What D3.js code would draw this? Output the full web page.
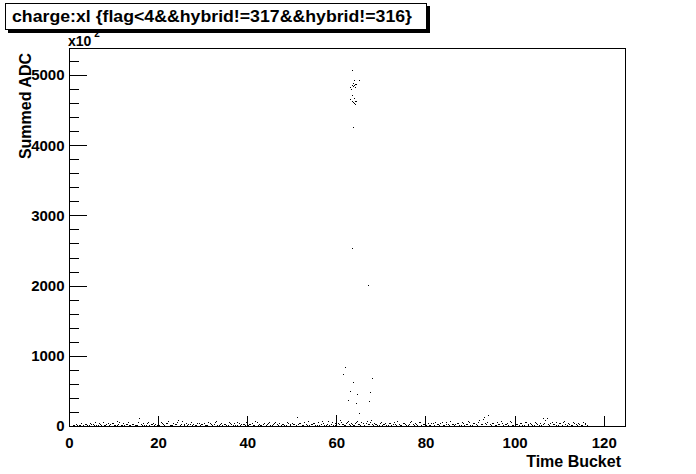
<!DOCTYPE html>
<html><head><meta charset="utf-8">
<script src="https://cdn.jsdelivr.net/npm/d3@7"></script>
<style>
html,body{margin:0;padding:0;background:#fff;}
text{font-family:"Liberation Sans",Arial,Helvetica,sans-serif;font-weight:bold;fill:#000;}
</style></head>
<body>
<svg id="c" width="696" height="474"></svg>
<script>
// ---- data (y in units of 10^2 ADC, as shown on the axis) ----
const titleText = "charge:xl {flag<4&&hybrid!=317&&hybrid!=316}";
const xTicks = [0, 20, 40, 60, 80, 100, 120];
const yTicks = [0, 1000, 2000, 3000, 4000, 5000];
const yMinor = [200,400,600,800,1200,1400,1600,1800,2200,2400,2600,2800,3200,3400,3600,3800,4200,4400,4600,4800,5200];

// signal cluster around time bucket 63-65
const clusterX = [63.58,64.03,65.15,63.80,64.25,64.47,63.58,64.03,63.13,63.80,64.25,63.35,63.58,63.13,64.03,63.58,63.80,64.25,64.47,64.03,64.25,63.80];
const clusterY = [5067,4924,4924,4882,4867,4867,4853,4853,4825,4839,4825,4796,4711,4654,4668,4625,4611,4625,4625,4597,4582,4255];

// intermediate hits
const midX = [63.58,67.2,62.0,61.6,68.1,63.8,63.1,64.7,67.6,62.7,64.3,64.5,67.4,65.1];
const midY = [2531,2004,836,736,679,622,494,456,480,366,323,323,352,181];

// pedestal / noise band along the bottom
const baseX = [1.2,1.9,2.5,3.1,3.8,4.4,5.0,5.6,6.1,6.7,7.2,7.9,8.4,9.0,9.6,10.1,10.7,11.3,11.8,12.4,13.0,13.5,14.1,14.7,15.2,15.7,16.3,16.9,17.4,18.0,18.6,19.1,19.7,20.3,20.9,21.4,22.0,22.6,23.1,23.7,24.2,24.8,25.4,25.9,26.5,27.1,27.6,28.2,28.8,29.3,29.9,30.5,31.0,31.6,32.2,32.7,33.3,33.9,34.4,35.0,35.6,36.1,36.7,37.3,37.8,38.4,39.0,39.5,40.1,40.7,41.2,41.8,42.4,42.9,43.5,44.1,44.6,45.2,45.8,46.3,46.9,47.5,48.0,48.6,49.2,49.7,50.3,50.9,51.1,51.6,52.2,52.8,53.3,53.9,54.5,55.0,55.6,56.2,56.7,57.3,57.9,58.4,59.0,59.6,60.0,60.0,60.0,60.3,60.8,61.2,61.7,62.2,62.6,63.0,63.5,64.0,64.4,64.9,65.4,65.9,66.3,66.8,67.3,67.8,68.2,68.7,69.2,69.7,70.2,70.7,71.2,71.8,72.3,72.9,73.4,74.0,74.6,75.1,75.7,76.2,76.8,77.4,77.9,78.5,79.1,79.6,80.2,80.8,81.3,81.9,82.5,83.0,83.6,84.2,84.7,85.3,85.9,86.4,87.0,87.6,88.1,88.7,89.3,89.8,90.4,91.0,91.5,92.1,92.7,93.1,93.6,94.1,94.6,95.2,95.8,96.3,96.9,97.5,98.0,98.6,99.2,99.7,100.3,100.9,101.4,102.0,102.6,103.1,103.7,104.3,104.8,105.4,106.0,106.3,106.6,107.2,107.7,108.3,108.9,109.4,110.0,110.6,111.1,111.7,112.3,112.8,113.4,114.0,114.5,115.1,115.7,116.2];
const baseY = [8,3,14,5,22,9,31,4,17,45,12,6,26,10,38,7,19,52,11,3,24,9,33,14,6,114,21,8,42,13,28,5,16,9,36,12,47,18,7,29,58,15,66,22,9,34,11,19,41,6,25,13,8,37,17,50,10,23,4,31,14,44,9,20,62,12,27,7,18,33,10,70,15,5,28,13,39,8,22,55,11,17,30,6,48,14,24,9,128,36,12,60,19,7,27,43,10,21,65,13,32,8,52,16,157,110,70,38,90,24,12,45,75,18,30,9,56,22,14,40,11,68,26,85,8,34,15,47,10,23,6,38,16,59,12,27,8,44,18,31,72,11,25,50,14,35,7,20,46,13,29,9,58,17,33,6,24,12,41,19,64,10,28,52,15,37,8,80,22,124,30,157,14,45,11,26,70,9,34,18,55,12,23,7,40,16,62,10,29,14,48,20,8,110,36,110,13,57,24,9,42,17,66,11,31,6,47,19,27,12,38,8];

// second noise band sample [time bucket, summed ADC]
const noisePairs = [[0.9,20],[1.6,35],[2.2,12],[2.8,48],[3.5,26],[4.1,15],[4.7,40],[5.3,22],[5.9,60],[6.4,18],[7.0,30],[7.6,55],[8.1,14],[8.7,37],[9.3,24],[9.9,46],[10.4,16],[10.7,70],[11.0,29],[11.6,19],[12.1,42],[12.7,25],[13.3,58],[13.8,17],[14.4,34],[15.0,21],[15.5,50],[16.1,27],[16.6,39],[17.2,15],[17.7,63],[18.3,23],[18.9,44],[19.4,31],[20.0,18],[20.6,53],[21.2,26],[21.7,36],[22.3,72],[22.9,20],[23.4,41],[24.0,28],[24.5,85],[25.1,33],[25.7,17],[26.2,49],[26.8,24],[27.4,61],[27.9,30],[28.5,19],[29.1,45],[29.6,27],[30.2,38],[30.8,16],[31.3,57],[31.9,23],[32.5,34],[33.0,68],[33.6,20],[34.2,42],[34.7,29],[35.3,15],[35.9,51],[36.4,25],[37.0,36],[37.6,19],[38.1,47],[38.7,30],[39.3,22],[39.8,58],[40.4,26],[41.0,39],[41.5,17],[42.1,54],[42.7,31],[43.2,21],[43.8,46],[44.4,28],[44.9,64],[45.5,18],[46.1,37],[46.6,24],[47.2,49],[47.8,33],[48.3,16],[48.9,59],[49.5,27],[50.0,40],[50.6,22],[51.3,35],[51.9,48],[52.5,19],[53.1,30],[53.6,73],[54.2,25],[54.8,38],[55.3,17],[55.9,52],[56.5,28],[57.0,44],[57.6,21],[58.2,67],[58.7,32],[59.3,18],[59.8,46],[60.5,29],[61.0,55],[61.5,35],[61.9,20],[62.4,62],[62.9,27],[63.3,44],[63.8,16],[64.2,37],[64.7,78],[65.1,25],[65.6,50],[66.1,19],[66.6,41],[67.1,30],[67.5,60],[68.0,22],[68.5,47],[69.0,33],[69.5,18],[70.0,56],[70.5,28],[71.0,39],[71.5,15],[72.1,45],[72.6,26],[73.2,35],[73.7,70],[74.3,21],[74.9,42],[75.4,30],[76.0,17],[76.5,54],[77.1,27],[77.7,38],[78.2,20],[78.8,63],[79.4,31],[79.9,24],[80.5,48],[81.1,19],[81.6,36],[82.2,57],[82.8,25],[83.3,40],[83.9,16],[84.5,50],[85.0,29],[85.6,66],[86.2,22],[86.7,34],[87.3,47],[87.9,18],[88.4,39],[89.0,28],[89.6,75],[90.1,21],[90.7,43],[91.3,32],[91.8,58],[92.4,24],[93.0,95],[93.4,37],[93.9,52],[94.4,26],[94.9,41],[95.5,19],[96.1,60],[96.6,30],[97.2,45],[97.8,22],[98.3,36],[98.9,68],[99.5,17],[100.0,49],[100.6,27],[101.2,38],[101.7,20],[102.3,55],[102.9,31],[103.4,44],[104.0,18],[104.6,62],[105.1,26],[105.7,40],[106.4,33],[106.9,88],[107.5,23],[108.0,46],[108.6,29],[109.2,57],[109.7,19],[110.3,37],[110.9,52],[111.4,25],[112.0,43],[112.6,16],[113.1,61],[113.7,28],[114.3,39],[114.8,21],[115.4,50],[115.9,30]];

const W = 696, H = 474;
const L = 69, R = 626, T = 48, B = 426;
const svg = d3.select("#c");
svg.append("rect").attr("width", W).attr("height", H).attr("fill", "#fff");

const x = d3.scaleLinear().domain([0, 125]).range([L, R]);
const y = d3.scaleLinear().domain([0, 5385]).range([B, T]);

// title box with shadow
svg.append("rect").attr("x", 8).attr("y", 6).attr("width", 422).attr("height", 27).attr("fill", "#000");
svg.append("rect").attr("x", 5.5).attr("y", 3.5).attr("width", 421).attr("height", 26).attr("fill", "#fff").attr("stroke", "#000").attr("stroke-width", 1);
svg.append("text").attr("x", 12).attr("y", 22).attr("font-size", 17)
  .attr("textLength", 400).attr("lengthAdjust", "spacingAndGlyphs").text(titleText);

// points
const pts = [];
baseX.forEach((v, i) => pts.push([v, baseY[i]]));
noisePairs.forEach(p => pts.push(p));
midX.forEach((v, i) => pts.push([v, midY[i]]));
clusterX.forEach((v, i) => pts.push([v, clusterY[i]]));
svg.append("g").attr("shape-rendering", "crispEdges").selectAll("rect").data(pts).join("rect")
  .attr("x", d => Math.round(x(d[0])))
  .attr("y", d => Math.min(Math.round(y(d[1])), B - 1))
  .attr("width", 1).attr("height", 1).attr("fill", "#000");

// frame
svg.append("rect").attr("x", L + 0.5).attr("y", T + 0.5).attr("width", R - L - 1).attr("height", B - T)
  .attr("fill", "none").attr("stroke", "#000").attr("shape-rendering", "crispEdges");

// y axis
const yAx = svg.append("g").attr("transform", `translate(${L + 0.5},0)`)
  .call(d3.axisLeft(y).tickValues(yTicks).tickSize(-17).tickPadding(5).tickFormat(d3.format("d")));
const yAxMin = svg.append("g").attr("transform", `translate(${L + 0.5},0)`)
  .call(d3.axisLeft(y).tickValues(yMinor).tickSize(-9).tickFormat(""));
[yAx, yAxMin].forEach(g => {
  g.select(".domain").remove();
  g.attr("shape-rendering", "crispEdges");
  g.selectAll("line").attr("stroke", "#000");
  g.selectAll("text").attr("font-size", 15).attr("font-family", null).attr("fill", "#000");
});

// x axis
const xAx = svg.append("g").attr("transform", `translate(0,${B + 0.5})`)
  .call(d3.axisBottom(x).tickValues(xTicks).tickSize(-11).tickPadding(11).tickFormat(d3.format("d")));
xAx.select(".domain").remove();
xAx.attr("shape-rendering", "crispEdges");
xAx.selectAll("line").attr("stroke", "#000");
xAx.selectAll("text").attr("font-size", 15).attr("font-family", null).attr("fill", "#000");

// exponent label
const ex = svg.append("text").attr("x", 68).attr("y", 46).attr("font-size", 14);
ex.append("tspan").text("x10");
ex.append("tspan").attr("dx", 3).attr("dy", -9).attr("font-size", 10).text("2");

// axis titles
svg.append("text").attr("x", 621).attr("y", 467).attr("text-anchor", "end").attr("font-size", 16).text("Time Bucket");
svg.append("text").attr("transform", "translate(31,53) rotate(-90)").attr("text-anchor", "end").attr("font-size", 16).text("Summed ADC");
</script>
</body></html>
